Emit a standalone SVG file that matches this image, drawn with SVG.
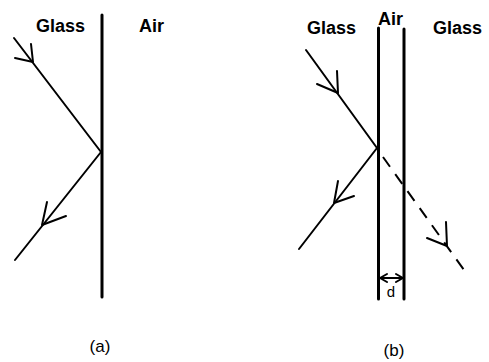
<svg xmlns="http://www.w3.org/2000/svg" width="489" height="362" viewBox="0 0 489 362">
<style>
.t{font-family:"Liberation Sans",Arial,sans-serif;font-weight:bold;font-size:18px;fill:#000}
.c{font-family:"Liberation Sans",Arial,sans-serif;font-size:17px;fill:#000}
.b{stroke:#000;stroke-width:3;fill:none;stroke-linecap:round}
.r{stroke:#000;stroke-width:2;fill:none;stroke-linecap:round;stroke-linejoin:round}
.d{stroke:#000;stroke-width:2;fill:none;stroke-dasharray:12,9}
</style>
<rect width="489" height="362" fill="#fff"/>
<g id="panel-a">
  <line class="b" x1="102" y1="15" x2="102" y2="297"/>
  <text class="t" x="36" y="32">Glass</text>
  <text class="t" x="139" y="32">Air</text>
  <text class="c" x="100" y="352" text-anchor="middle">(a)</text>
</g>
<g id="panel-b">
  <line class="b" x1="378.5" y1="28" x2="378.5" y2="299"/>
  <line class="b" x1="404" y1="29" x2="404" y2="299"/>
  <text class="t" x="307" y="34">Glass</text>
  <text class="t" x="378" y="25">Air</text>
  <text class="t" x="433" y="34">Glass</text>
  <text class="c" x="394" y="356" text-anchor="middle">(b)</text>
  <text class="c" x="391" y="297" text-anchor="middle" style="font-size:15px">d</text>
</g>
<g id="connectors">
  <line class="r" x1="14" y1="38" x2="101" y2="152"/>
  <polyline class="r" points="15,58 33,62 31,44"/>
  <line class="r" x1="101" y1="152" x2="15" y2="260"/>
  <polyline class="r" points="47,202 42,225 66,216"/>
  <line class="r" x1="306" y1="50" x2="377" y2="148"/>
  <polyline class="r" points="317,84 338,93 337,71"/>
  <line class="r" x1="377" y1="148" x2="299" y2="249"/>
  <polyline class="r" points="338,181 334,203 354,196"/>
  <line class="d" x1="383" y1="157" x2="464" y2="270"/>
  <polyline class="r" points="427,238 447,246 446,222"/>
  <line class="r" x1="380" y1="278" x2="403" y2="278"/>
  <polyline class="r" points="387,274 380,278 387,282"/>
  <polyline class="r" points="396,274 403,278 396,282"/>
</g>
</svg>
